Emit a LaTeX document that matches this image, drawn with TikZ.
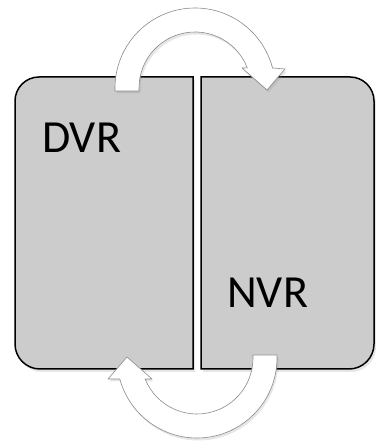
\documentclass[tikz,border=0pt]{standalone}
\usepackage{fontspec}
\setmainfont{Carlito}
\usetikzlibrary{shadows}

\begin{document}
\begin{tikzpicture}[x=1pt,y=1pt,
    panel/.style={draw=black, line width=1.5pt, fill={rgb,255:red,204;green,204;blue,204},
      drop shadow={shadow xshift=2pt, shadow yshift=-3pt, opacity=0.2}},
    bentarrow/.style={draw=black!45, line width=0.6pt, fill=white, line join=round,
      drop shadow={shadow xshift=1.5pt, shadow yshift=-2.5pt, opacity=0.2}},
    tag/.style={font=\fontsize{46}{50}\selectfont, inner sep=0pt, anchor=base west}]
\useasboundingbox (0,0) rectangle (375,441);
% the two halves
\draw[panel] (193,72) -- (193,364) -- (39,364)
  arc[start angle=90, end angle=180, radius=24] -- (15,97)
  arc[start angle=180, end angle=270, radius=25] -- cycle;
\draw[panel] (201,72) -- (201,364) -- (350,364)
  arc[start angle=90, end angle=0, radius=24] -- (374,97)
  arc[start angle=0, end angle=-90, radius=25] -- cycle;
% curved arrows
\coordinate (topc) at (195,353);
\coordinate (botc) at (197,83);
\draw[bentarrow] (115,350) -- ([shift={(180:80)}]topc)
  arc[start angle=180, end angle=14.5, radius=80]
  -- (285,372) -- (267,351) -- (242,373) -- ([shift={(21:56)}]topc)
  arc[start angle=21, end angle=180, radius=56] -- (139,350) -- cycle;
\draw[bentarrow] (277,86) -- ([shift={(0:80)}]botc)
  arc[start angle=0, end angle=-164.8, radius=80]
  -- (108,62) -- (127,84) -- (152,62) -- ([shift={(-158:56)}]botc)
  arc[start angle=-158, end angle=0, radius=56] -- (253,86) -- cycle;
% labels
\node[tag] (dvr) at (42,288) {DVR};
\node[tag] (nvr) at (227,133) {NVR};
\end{tikzpicture}
\end{document}
